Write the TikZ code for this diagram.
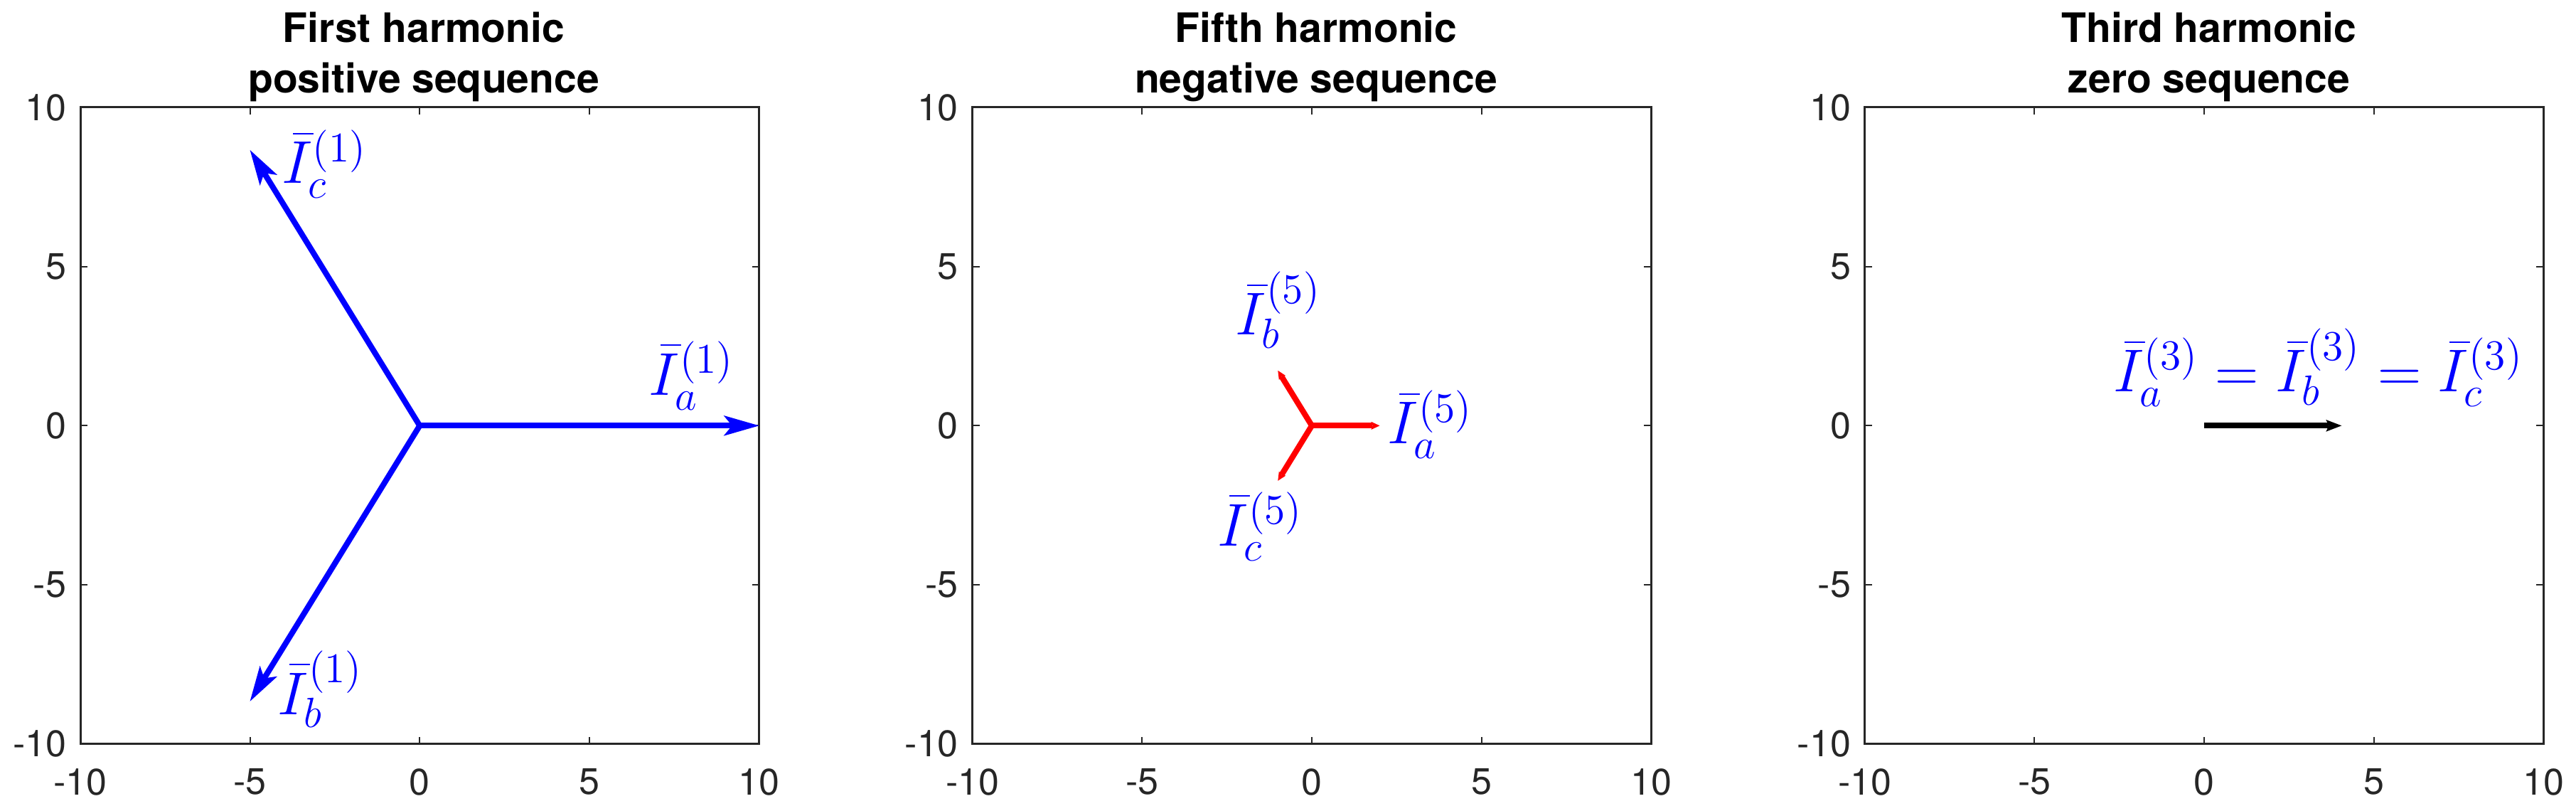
\RequirePackage{fix-cm}
\documentclass[tikz,border=0pt]{standalone}
\usepackage{fontspec}
\newfontfamily\hv{TeX Gyre Heros}
\usetikzlibrary{arrows.meta}
\definecolor{axgray}{HTML}{262626}
\definecolor{mblue}{RGB}{0,0,255}
\definecolor{mred}{RGB}{255,0,0}
\tikzset{
 axisline/.style={draw=axgray, line width=0.75pt},
 tickline/.style={draw=axgray, line width=0.5pt},
 ticklabel/.style={text=axgray, font=\hv\fontsize{13}{15}\selectfont, inner sep=0pt},
 titletext/.style={font=\hv\bfseries\fontsize{14.25}{17}\selectfont, inner sep=0pt, anchor=base},
 veclabel/.style={text=mblue, font=\fontsize{21.25}{25}\selectfont, inner sep=0pt, anchor=base west},
 bigvec/.style={mblue, line width=2pt, -{Stealth[length=12.5pt,width=7.2pt,inset=3pt,line width=0pt]}},
 smallvec/.style={mred, line width=2pt, -{Stealth[length=3pt,width=2.8pt,inset=0.5pt,line width=0pt]}},
 zerovec/.style={black, line width=2pt, -{Stealth[length=5.5pt,width=4.2pt,inset=1pt,line width=0pt]}},
}
\newcommand{\phaseaxes}[1]{%
  \draw[axisline] (-10,-10) rectangle (10,10);
  \foreach \t in {-5,0,5}{
    \draw[tickline] (\t,-10) -- ++(0pt,2.5pt);
    \draw[tickline] (\t,10) -- ++(0pt,-2.5pt);
    \draw[tickline] (-10,\t) -- ++(2.5pt,0pt);
    \draw[tickline] (10,\t) -- ++(-2.5pt,0pt);
  }
  \foreach \t [count=\i] in {-10,-5,0,5,10}{
    \node[ticklabel, anchor=north] (#1x\i) at ([yshift=-8.5pt]\t,-10) {\t};
    \node[ticklabel, anchor=east] (#1y\i) at ([xshift=-4.75pt]-10,\t) {\t};
  }
}
\begin{document}
\begin{tikzpicture}
\useasboundingbox (0,0) rectangle (905.75pt,284.75pt);
% titles
\node[titletext] (t1a) at (149pt,270pt) {First harmonic};
\node[titletext] (t1b) at (149pt,252.25pt) {positive sequence};
\node[titletext] (t2a) at (462.75pt,270pt) {Fifth harmonic};
\node[titletext] (t2b) at (462.75pt,252.25pt) {negative sequence};
\node[titletext] (t3a) at (776.75pt,270pt) {Third harmonic};
\node[titletext] (t3b) at (776.75pt,252.25pt) {zero sequence};
% plot 1
\begin{scope}[shift={(147.575pt,135.1625pt)}, x=11.9325pt, y=11.184pt]
 \phaseaxes{p1}
 \coordinate (o1) at (0,0);
 \coordinate (a1) at (10,0);
 \coordinate (b1) at (-5,-8.66);
 \coordinate (c1) at (-5,8.66);
 \draw[bigvec] (o1) -- (a1);
 \draw[bigvec] (o1) -- (b1);
 \draw[bigvec] (o1) -- (c1);
 \node[veclabel] (la1) at (6.74,0.969) {$\bar{I}_a^{(1)}$};
 \node[veclabel] (lb1) at (-4.20,-9.07) {$\bar{I}_b^{(1)}$};
 \node[veclabel] (lc1) at (-4.08,7.61) {$\bar{I}_c^{(1)}$};
\end{scope}
% plot 2
\begin{scope}[shift={(461.25pt,135.1625pt)}, x=11.9325pt, y=11.184pt]
 \phaseaxes{p2}
 \coordinate (o2) at (0,0);
 \coordinate (a2) at (2,0);
 \coordinate (b2) at (-1,1.732);
 \coordinate (c2) at (-1,-1.732);
 \draw[smallvec] (o2) -- (a2);
 \draw[smallvec] (o2) -- (b2);
 \draw[smallvec] (o2) -- (c2);
 \node[veclabel] (la2) at (2.22,-0.57) {$\bar{I}_a^{(5)}$};
 \node[veclabel] (lb2) at (-2.26,2.85) {$\bar{I}_b^{(5)}$};
 \node[veclabel] (lc2) at (-2.79,-3.77) {$\bar{I}_c^{(5)}$};
\end{scope}
% plot 3
\begin{scope}[shift={(775pt,135.1625pt)}, x=11.9325pt, y=11.184pt]
 \phaseaxes{p3}
 \coordinate (o3) at (0,0);
 \coordinate (a3) at (4.05,0);
 \draw[zerovec] (o3) -- (a3);
 \node[veclabel] (l3) at (-2.69,1.065) {$\bar{I}_a^{(3)} = \bar{I}_b^{(3)} = \bar{I}_c^{(3)}$};
\end{scope}
\end{tikzpicture}
\end{document}
